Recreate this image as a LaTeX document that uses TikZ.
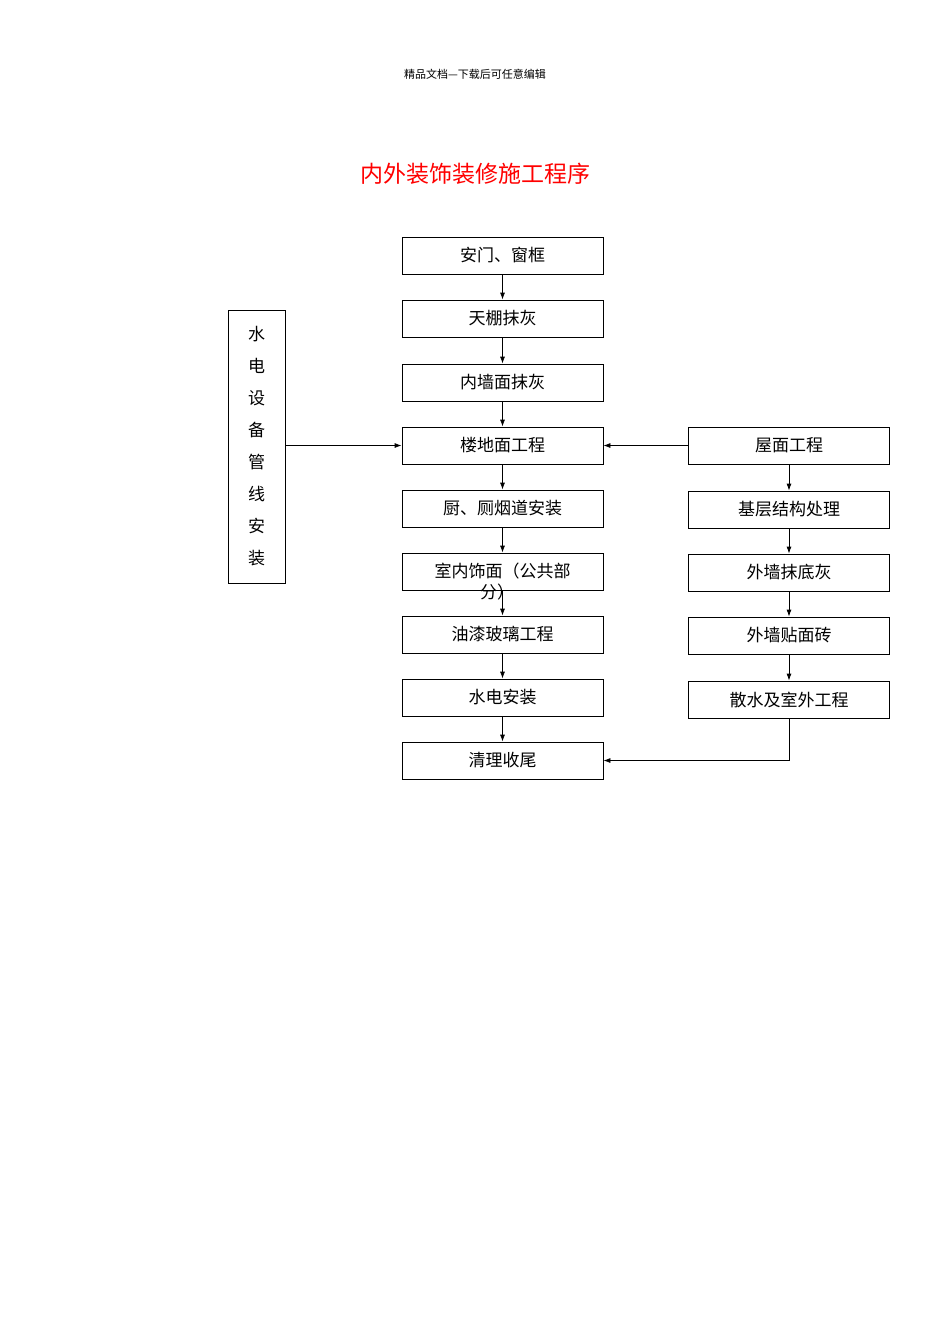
\documentclass[tikz,border=0pt]{standalone}
\usepackage{fontspec}
\setmainfont{Noto Sans CJK SC}
\usetikzlibrary{arrows.meta}
\begin{document}
\begin{tikzpicture}[x=1pt,y=-1pt,
 box/.style={draw,line width=0.8pt,minimum width=201pt,minimum height=37pt,inner sep=0pt,font=\fontsize{17}{17}\selectfont},
 arr/.style={-{Latex[length=7pt,width=5pt]},line width=0.8pt}]
\useasboundingbox (0,0) rectangle (950,1344);
\node[font=\fontsize{11}{11}\selectfont] (hdr) at (475,74) {精品文档---下载后可任意编辑};
\node[font=\fontsize{23}{23}\selectfont,text=red] (ttl) at (475,174) {内外装饰装修施工程序};
\node[box] (a1) at (502.5,255.5) {安门、窗框};
\node[box] (a2) at (502.5,318.5) {天棚抹灰};
\node[box] (a3) at (502.5,382.5) {内墙面抹灰};
\node[box] (a4) at (502.5,445.5) {楼地面工程};
\node[box] (a5) at (502.5,508.5) {厨、厕烟道安装};
\node[box] (a6) at (502.5,571.5) {};
\node[font=\fontsize{17}{17}\selectfont] (a6t) at (502.5,571.5) {室内饰面（公共部};
\node[font=\fontsize{17}{17}\selectfont] (a6u) at (497,592) {分）};
\node[box] (a7) at (502.5,634.5) {油漆玻璃工程};
\node[box] (a8) at (502.5,697.5) {水电安装};
\node[box] (a9) at (502.5,760.5) {清理收尾};
\node[box] (b1) at (789,445.5) {屋面工程};
\node[box] (b2) at (789,509.5) {基层结构处理};
\node[box] (b3) at (789,572.5) {外墙抹底灰};
\node[box] (b4) at (789,635.5) {外墙贴面砖};
\node[box] (b5) at (789,699.5) {散水及室外工程};
\node[draw,line width=0.8pt,minimum width=57pt,minimum height=273pt,inner sep=0pt,align=center,font=\fontsize{17}{32}\selectfont] (w) at (256.5,446.5) {水\\电\\设\\备\\管\\线\\安\\装};
\foreach \p/\q in {a1/a2,a2/a3,a3/a4,a4/a5,a5/a6,a6/a7,a7/a8,a8/a9,b1/b2,b2/b3,b3/b4,b4/b5}
  \draw[arr] (\p.south) -- (\q.north);
\draw[arr] (w.east|-a4) -- (a4.west);
\draw[arr] (b1.west) -- (a4.east);
\coordinate (c) at (b5.south|-a9.east);
\draw[arr] (b5.south) -- (c) -- (a9.east);
\end{tikzpicture}
\end{document}
